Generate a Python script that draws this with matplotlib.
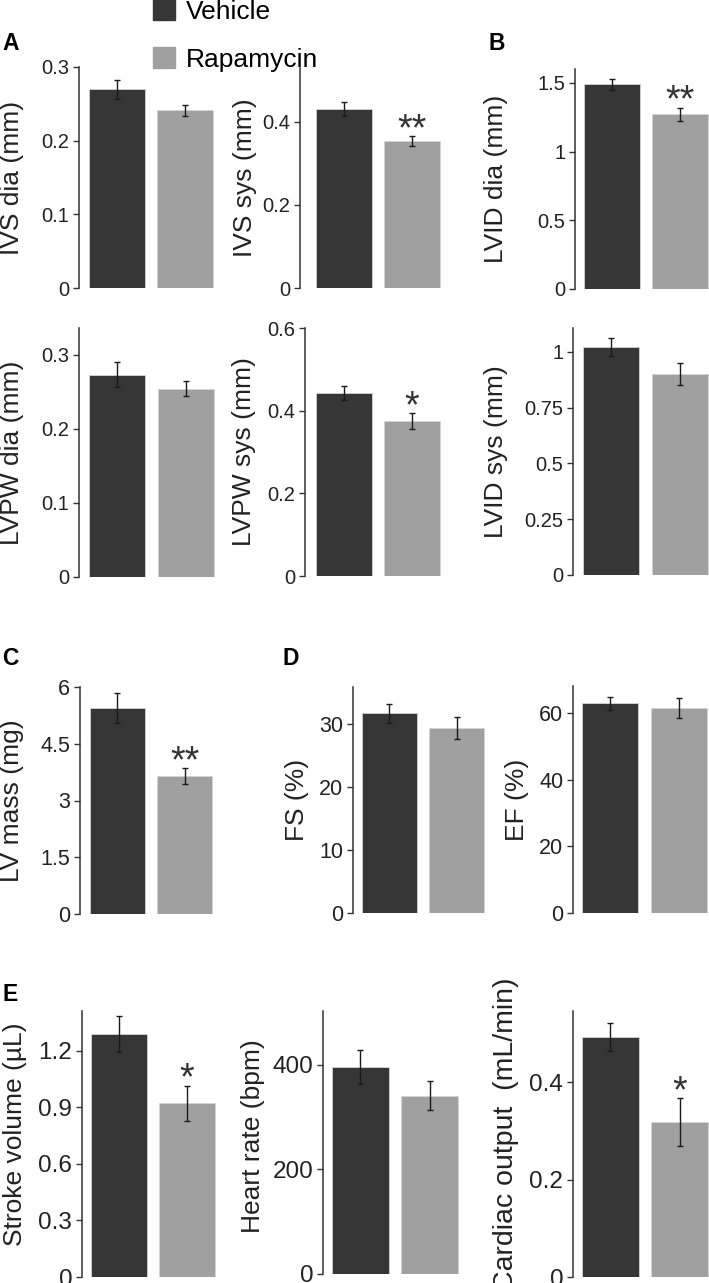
import matplotlib.pyplot as plt
from matplotlib.patches import Patch

# echo measurements: vehicle vs rapamycin (mean, sem)
labels = ['IVS dia (mm)', 'IVS sys (mm)', 'LVID dia (mm)',
          'LVPW dia (mm)', 'LVPW sys (mm)', 'LVID sys (mm)',
          'LV mass (mg)', 'FS (%)', 'EF (%)',
          'Stroke volume (µL)', 'Heart rate (bpm)', 'Cardiac output  (mL/min)']
vehicle = [0.270, 0.431, 1.49, 0.273, 0.443, 1.02, 5.44, 31.7, 62.9, 1.29, 396, 0.493]
vehicle_err = [0.013, 0.017, 0.04, 0.017, 0.017, 0.04, 0.39, 1.5, 2.0, 0.095, 33, 0.029]
rapamycin = [0.241, 0.354, 1.27, 0.254, 0.375, 0.90, 3.65, 29.4, 61.5, 0.92, 341, 0.318]
rapamycin_err = [0.008, 0.012, 0.05, 0.010, 0.020, 0.05, 0.21, 1.75, 3.0, 0.095, 28, 0.05]
signif = ['', '**', '**', '', '*', '', '**', '', '', '*', '', '*']
ymax = [0.3, 0.53, 1.60, 0.336, 0.6, 1.107, 6, 35.9, 68.1, 1.41, 503, 0.546]
yticks = [[0, 0.1, 0.2, 0.3], [0, 0.2, 0.4], [0, 0.5, 1, 1.5],
          [0, 0.1, 0.2, 0.3], [0, 0.2, 0.4, 0.6], [0, 0.25, 0.5, 0.75, 1],
          [0, 1.5, 3, 4.5, 6], [0, 10, 20, 30], [0, 20, 40, 60],
          [0, 0.3, 0.6, 0.9, 1.2], [0, 200, 400], [0, 0.2, 0.4]]

# panel layout in pixels: spine x, zero y, top y, first bar left, last bar right, label x, label y
W, H = 709, 1283
layout = [(79, 288, 67, 89, 213, 12, None), (300, 288, 68, 316, 440, 245, None),
          (575, 289, 69, 584, 708, 496, None),
          (79, 577, 328, 89, 214, 12, None), (305, 576, 328, 316, 440, 244, None),
          (573, 575, 328, 583, 708, 496, None),
          (80, 914, 687, 90, 212, 12, None), (353, 913, 687, 362, 484, 297, None),
          (573, 913, 686, 582, 707, 517, None),
          (82, 1277, 1011, 91, 215, 15, 1134), (323, 1274, 1011, 332, 458, 253, 1136),
          (573, 1277, 1011, 582, 708, 506, 1134)]
tick_size = [14.5] * 6 + [15.5] * 3 + [17.5] * 3
label_size = [19] * 11 + [20.5]

c_veh = '#363636'
c_rapa = '#a0a0a0'
c_axis = '#333333'

plt.rcParams['font.family'] = ['Liberation Sans', 'DejaVu Sans']
fig = plt.figure(figsize=(W / 100, H / 100), dpi=100)

for i in range(12):
    spine, zero, top, vl, rr, lx, ly = layout[i]
    right = min(rr + 2, W)
    ax = fig.add_axes([spine / W, 1 - zero / H, (right - spine) / W, (zero - top) / H])
    unit = (rr - vl) / 1.82
    ax.bar([0, 1], [vehicle[i], rapamycin[i]], width=0.82,
           yerr=[vehicle_err[i], rapamycin_err[i]], color=[c_veh, c_rapa],
           edgecolor='#d4d4d4', linewidth=0.6, capsize=2,
           error_kw=dict(elinewidth=1, capthick=1, ecolor='#1a1a1a'))
    ax.set_xlim(-0.41 - (vl - spine) / unit, 1.41 + (right - rr) / unit)
    ax.set_ylim(0, ymax[i])
    ax.set_yticks(yticks[i])
    ax.set_yticklabels([f'{t:g}' for t in yticks[i]])
    ax.set_xticks([])
    for s in ['top', 'right', 'bottom']:
        ax.spines[s].set_visible(False)
    ax.spines['left'].set_color(c_axis)
    ax.spines['left'].set_linewidth(1.1)
    ax.tick_params(axis='y', direction='out', length=4, width=1, color=c_axis,
                   labelsize=tick_size[i], labelcolor='#222222', pad=3)
    ax.patch.set_alpha(0)
    ax.set_ylabel(labels[i], fontsize=label_size[i], color='#222222', va='center')
    yfrac = 0.5 if ly is None else (zero - ly) / (zero - top)
    ax.yaxis.set_label_coords((lx - spine) / (right - spine), yfrac)
    if signif[i]:
        ax.annotate(signif[i], xy=(1, rapamycin[i] + rapamycin_err[i]), xytext=(0, -3),
                    textcoords='offset points', ha='center', va='baseline',
                    fontsize=27, color='#333333')

# panel letters
for letter, x, y in [('A', 2, 50), ('B', 488, 50), ('C', 2, 665), ('D', 283, 665), ('E', 2, 1001)]:
    fig.text(x / W, 1 - y / H, letter, fontsize=16.5, fontweight='bold', va='baseline', ha='left')

fig.legend(handles=[Patch(color=c_veh), Patch(color=c_rapa)], labels=['Vehicle', 'Rapamycin'],
           loc='upper left', bbox_to_anchor=(153 / W, 1 + 1 / H), frameon=False, fontsize=19,
           handlelength=0.85, handleheight=0.85, handletextpad=0.4, labelspacing=0.9,
           borderpad=0, borderaxespad=0)

fig.savefig('out.png', dpi=100)
